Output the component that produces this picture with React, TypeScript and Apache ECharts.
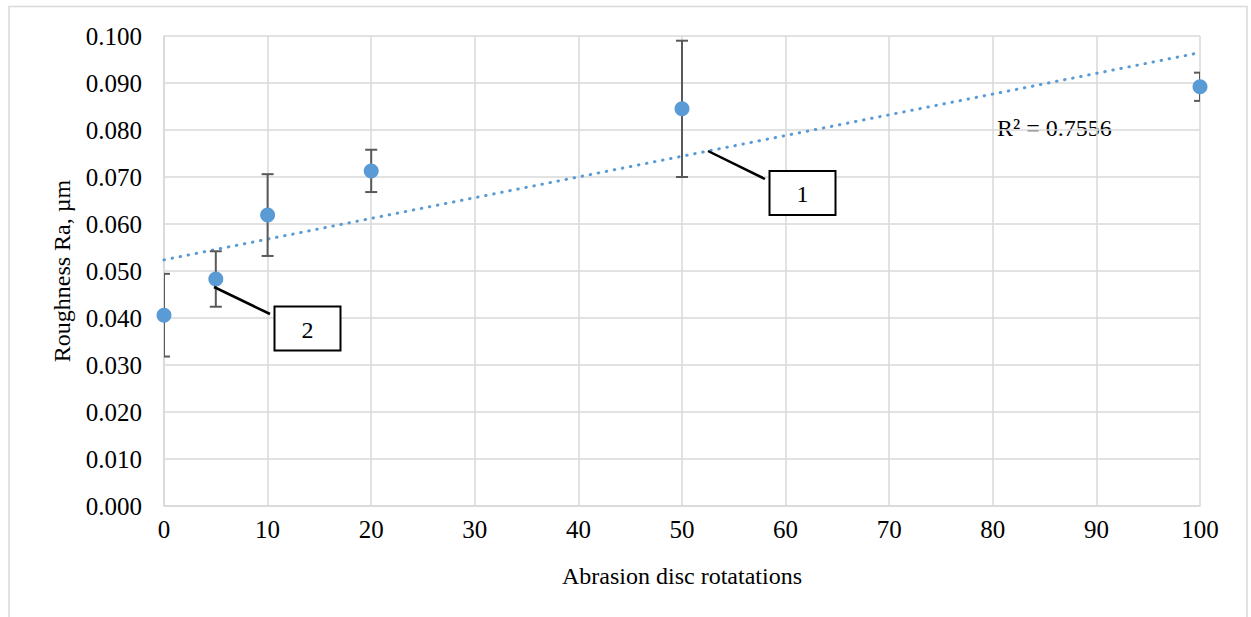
import React, { useEffect, useRef } from "react";
import * as echarts from "echarts";

const rotations = [0, 5, 10, 20, 50, 100];
const roughness = [0.0406, 0.0483, 0.0619, 0.0713, 0.0845, 0.0892];
const errors = [0.0088, 0.0059, 0.0087, 0.0045, 0.0145, 0.003];
const r2Label = "R² = 0.7556";
const xTitle = "Abrasion disc rotatations";
const yTitle = "Roughness Ra, µm";

const FONT = "'Liberation Serif', 'Times New Roman', serif";
const BLUE = "#5B9BD5";
const GRID = "#d9d9d9";

function regression(xs: number[], ys: number[]) {
  const n = xs.length;
  const mx = xs.reduce((a, b) => a + b, 0) / n;
  const my = ys.reduce((a, b) => a + b, 0) / n;
  let sxy = 0;
  let sxx = 0;
  for (let i = 0; i < n; i++) {
    sxy += (xs[i] - mx) * (ys[i] - my);
    sxx += (xs[i] - mx) * (xs[i] - mx);
  }
  const m = sxy / sxx;
  return { m, b: my - m * mx };
}

export default function App() {
  const ref = useRef<HTMLDivElement>(null);
  useEffect(() => {
    if (!ref.current) return;
    const chart = echarts.init(ref.current, null, { renderer: "svg" });
    const { m, b } = regression(rotations, roughness);
    const trend = [
      [0, b],
      [100, b + 100 * m],
    ];
    const errData = rotations.map((x, i) => [x, roughness[i] - errors[i], roughness[i] + errors[i]]);
    chart.setOption({
      animation: false,
      backgroundColor: "#fff",
      grid: { left: 164, top: 36, right: 51, bottom: 111 },
      xAxis: {
        type: "value",
        min: 0,
        max: 100,
        interval: 10,
        name: xTitle,
        nameLocation: "middle",
        nameGap: 58,
        nameTextStyle: { fontFamily: FONT, fontSize: 24, color: "#000" },
        axisLine: { show: true, lineStyle: { color: GRID, width: 1.5 } },
        axisTick: { show: false },
        splitLine: { show: true, lineStyle: { color: GRID, width: 1.5 } },
        axisLabel: { fontFamily: FONT, fontSize: 25, color: "#000", margin: 11 },
      },
      yAxis: {
        type: "value",
        min: 0,
        max: 0.1,
        interval: 0.01,
        name: yTitle,
        nameLocation: "middle",
        nameGap: 90,
        nameTextStyle: { fontFamily: FONT, fontSize: 24, color: "#000" },
        axisLine: { show: true, lineStyle: { color: GRID, width: 1.5 } },
        axisTick: { show: false },
        splitLine: { show: true, lineStyle: { color: GRID, width: 1.5 } },
        axisLabel: {
          fontFamily: FONT,
          fontSize: 25,
          color: "#000",
          margin: 22,
          formatter: (v: number) => v.toFixed(3),
        },
      },
      series: [
        {
          type: "line",
          data: trend,
          symbol: "none",
          lineStyle: { color: BLUE, width: 3, type: [0.5, 7.7], cap: "round" },
          z: 2,
        },
        {
          type: "custom",
          clip: true,
          data: errData,
          z: 3,
          renderItem: (params: any, api: any) => {
            const x = api.value(0);
            const lo = api.coord([x, api.value(1)]);
            const hi = api.coord([x, api.value(2)]);
            const cw = 6;
            const st = { stroke: "#595959", lineWidth: 2 };
            return {
              type: "group",
              children: [
                { type: "line", shape: { x1: lo[0], y1: lo[1], x2: hi[0], y2: hi[1] }, style: st },
                { type: "line", shape: { x1: lo[0] - cw, y1: lo[1], x2: lo[0] + cw, y2: lo[1] }, style: st },
                { type: "line", shape: { x1: hi[0] - cw, y1: hi[1], x2: hi[0] + cw, y2: hi[1] }, style: st },
              ],
            };
          },
        },
        {
          type: "scatter",
          data: rotations.map((x, i) => [x, roughness[i]]),
          symbol: "circle",
          symbolSize: 15,
          itemStyle: { color: BLUE, opacity: 1 },
          z: 4,
        },
      ],
      graphic: [
        {
          type: "rect",
          shape: { x: 9, y: 6.5, width: 1238, height: 640 },
          style: { fill: "none", stroke: GRID, lineWidth: 1.5 },
          silent: true,
        },
        {
          type: "text",
          x: 997,
          y: 128,
          style: { text: r2Label, font: `24px ${FONT}`, fill: "#000", verticalAlign: "middle", align: "left" },
        },
        {
          type: "line",
          shape: { x1: 708, y1: 151, x2: 765, y2: 179 },
          style: { stroke: "#000", lineWidth: 2.5 },
          z: 10,
        },
        {
          type: "rect",
          shape: { x: 769.5, y: 171, width: 66, height: 44 },
          style: { fill: "#fff", stroke: "#000", lineWidth: 2 },
          z: 10,
        },
        {
          type: "text",
          x: 802.5,
          y: 194,
          style: { text: "1", font: `24px ${FONT}`, fill: "#000", align: "center", verticalAlign: "middle" },
          z: 11,
        },
        {
          type: "line",
          shape: { x1: 214, y1: 287, x2: 270, y2: 314 },
          style: { stroke: "#000", lineWidth: 2.5 },
          z: 10,
        },
        {
          type: "rect",
          shape: { x: 274.5, y: 306.5, width: 66, height: 44 },
          style: { fill: "#fff", stroke: "#000", lineWidth: 2 },
          z: 10,
        },
        {
          type: "text",
          x: 307.5,
          y: 330,
          style: { text: "2", font: `24px ${FONT}`, fill: "#000", align: "center", verticalAlign: "middle" },
          z: 11,
        },
      ],
    });
    return () => chart.dispose();
  }, []);
  return <div ref={ref} style={{ position: "fixed", left: 0, top: 0, width: 1251, height: 617 }} />;
}
